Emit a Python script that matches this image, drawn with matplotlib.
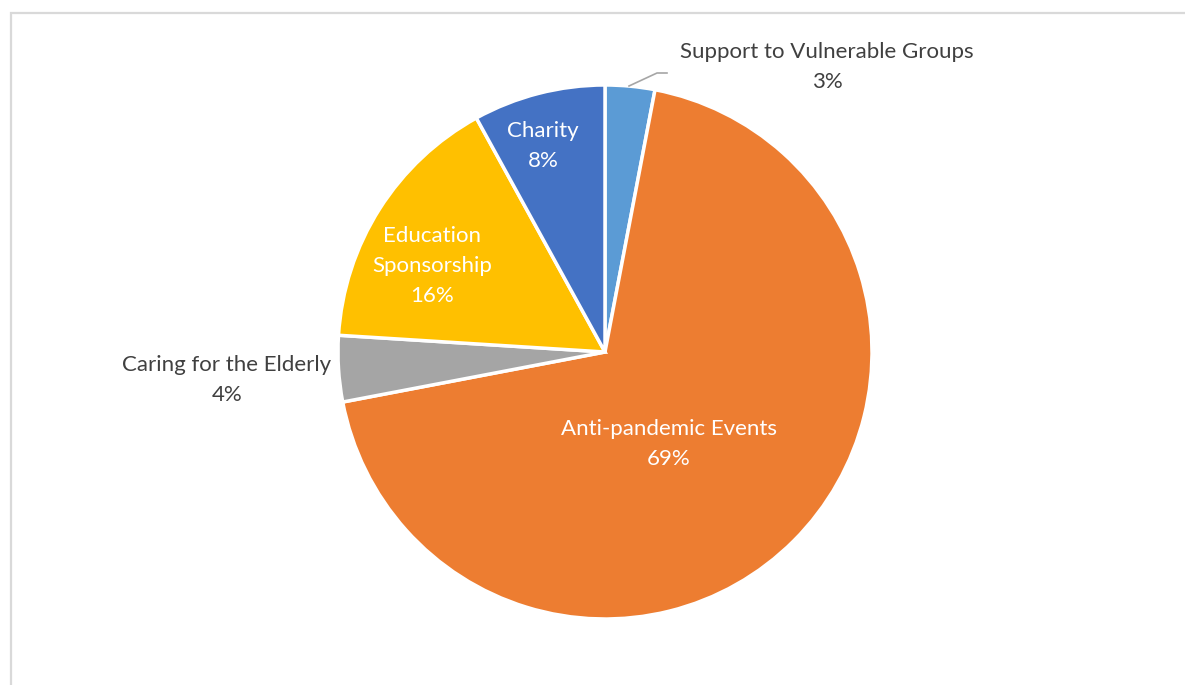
import matplotlib
matplotlib.use('Agg')
import matplotlib.pyplot as plt

categories = ['Support to Vulnerable Groups', 'Anti-pandemic Events',
              'Caring for the Elderly', 'Education\nSponsorship', 'Charity']
shares = [3, 69, 4, 16, 8]
colors = ['#5B9BD5', '#ED7D31', '#A5A5A5', '#FFC000', '#4472C4']

W, H = 1185, 685
plt.rcParams['font.family'] = ['Lato', 'DejaVu Sans']

fig = plt.figure(figsize=(W / 100, H / 100), dpi=100)
ax = fig.add_axes([0, 0, 1, 1])


def py(y):
    # pixel y (from top) -> axes y
    return H - y


# chart frame (top and left edges visible)
ax.plot([10.5, 10.5, W + 5], [-5, py(12.5), py(12.5)], color='#d9d9d9', lw=1.6,
        solid_joinstyle='miter')

ax.pie(shares, colors=colors, startangle=90, counterclock=False,
       center=(605, py(352)), radius=267, frame=True,
       wedgeprops=dict(edgecolor='white', linewidth=2.5))
ax.set_xlim(0, W)
ax.set_ylim(0, H)
ax.axis('off')

dark = '#404040'
fs = 16
labels = [
    (827, 67, dark),      # support
    (669, 444, 'white'),  # anti-pandemic
    (227, 380, dark),     # elderly
    (432, 266, 'white'),  # education
    (543, 146, 'white'),  # charity
]
for (x, y, c), name, val in zip(labels, categories, shares):
    ax.text(x, py(y), f'{name}\n{val}%', ha='center', va='center',
            fontsize=fs, color=c, linespacing=1.6)

# leader line for the small slice
ax.plot([629, 657, 667], [py(86), py(73), py(73)], color='#a6a6a6', lw=1.2)

fig.savefig('out.png', dpi=100, facecolor='white')
